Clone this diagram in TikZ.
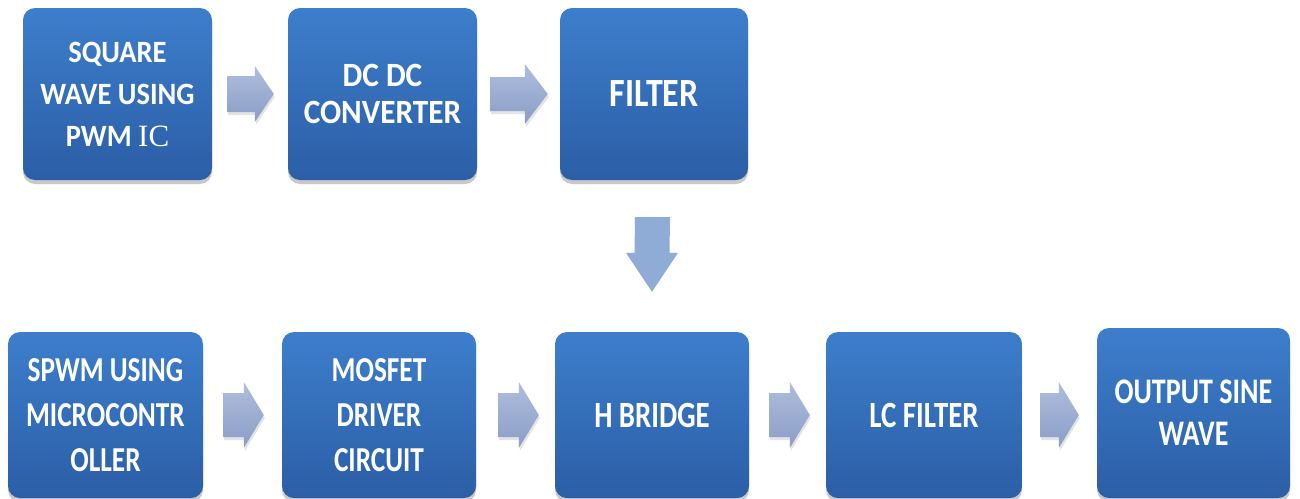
\documentclass[tikz,border=0pt]{standalone}
\usepackage{fontspec}
\newfontfamily\boxfontA{Carlito}[FakeStretch=0.92]
\newfontfamily\boxfontB{Carlito}[FakeStretch=0.85]
\newfontfamily\boxfontC{Carlito}[FakeStretch=0.78]
\newfontfamily\icfont{Liberation Serif}
\usetikzlibrary{shadows,calc}
\definecolor{boxtop}{HTML}{3D7ECC}
\definecolor{boxbot}{HTML}{2B5EA6}
\definecolor{arrtop}{HTML}{AEBEDD}
\definecolor{arrbot}{HTML}{8A9DC6}
\definecolor{downarr}{HTML}{8EACD6}
\tikzset{
  blockbox/.style={rectangle, rounded corners=12pt, top color=boxtop, bottom color=boxbot,
    draw=none, text=white, align=center, inner sep=0pt,
    drop shadow={shadow xshift=0pt, shadow yshift=-4pt, opacity=0.3, fill=black!70}},
  flowarrow/.style={top color=arrtop, bottom color=arrbot, draw=none,
    drop shadow={shadow xshift=1pt, shadow yshift=-3pt, opacity=0.18, fill=black!60}},
  downflow/.style={fill=downarr, draw=none}
}
% horizontal block arrow: #1 start, #2 tip, #3 shaft half, #4 head half, #5 head length
\newcommand\hblockarrow[5]{%
  \path[flowarrow] ($(#1)+(0,-#3)$) -- ($(#2)+(-#5,-#3)$) -- ($(#2)+(-#5,-#4)$) -- (#2)
    -- ($(#2)+(-#5,#4)$) -- ($(#2)+(-#5,#3)$) -- ($(#1)+(0,#3)$) -- cycle;}
\begin{document}
\begin{tikzpicture}[x=1pt,y=-1pt]
\useasboundingbox (0,0) rectangle (1300,498);
\clip (0,0) rectangle (1300,498);
\fill[white] (0,0) rectangle (1300,498);
% top row
\node[blockbox, minimum width=189pt, minimum height=172pt,
  font=\boxfontA\bfseries\fontsize{31}{42}\selectfont] (t1) at (117.5,94)
  {SQUARE\\WAVE USING\\PWM {\icfont\mdseries IC}};
\node[blockbox, minimum width=189pt, minimum height=172pt,
  font=\boxfontA\bfseries\fontsize{34}{37}\selectfont] (t2) at (382.5,94)
  {DC DC\\CONVERTER};
\node[blockbox, minimum width=188pt, minimum height=172pt,
  font=\boxfontB\bfseries\fontsize{40}{44}\selectfont] (t3) at (654,94)
  {FILTER};
% bottom row
\node[blockbox, minimum width=195pt, minimum height=166pt,
  font=\boxfontC\bfseries\fontsize{35}{45}\selectfont] (b1) at (105.5,415)
  {SPWM USING\\MICROCONTR\\OLLER};
\node[blockbox, minimum width=194pt, minimum height=166pt,
  font=\boxfontC\bfseries\fontsize{35}{45}\selectfont] (b2) at (379,415)
  {MOSFET\\DRIVER\\CIRCUIT};
\node[blockbox, minimum width=194pt, minimum height=166pt,
  font=\boxfontC\bfseries\fontsize{37}{42}\selectfont] (b3) at (652,415)
  {H BRIDGE};
\node[blockbox, minimum width=196pt, minimum height=166pt,
  font=\boxfontC\bfseries\fontsize{37}{42}\selectfont] (b4) at (924,415)
  {LC FILTER};
\node[blockbox, minimum width=193pt, minimum height=170pt,
  font=\boxfontC\bfseries\fontsize{36}{42}\selectfont] (b5) at (1193.5,413)
  {OUTPUT SINE\\WAVE};
% arrow end points
\coordinate (a1s) at ($(t1.east)+(15,0)$);  \coordinate (a1e) at ($(t2.west)+(-14,0)$);
\coordinate (a2s) at ($(t2.east)+(13,0)$);  \coordinate (a2e) at ($(t3.west)+(-12,0)$);
\coordinate (a3s) at ($(b1.east)+(20,0)$); \coordinate (a3e) at ($(b2.west)+(-18,0)$);
\coordinate (a4s) at ($(b2.east)+(22,0)$); \coordinate (a4e) at ($(b3.west)+(-16,0)$);
\coordinate (a5s) at ($(b3.east)+(20,0)$); \coordinate (a5e) at ($(b4.west)+(-16,0)$);
\coordinate (a6s) at ($(b4.east)+(18,0)$); \coordinate (a6e) at ($(b5.west)+(-18,2)$);
\hblockarrow{a1s}{a1e}{18}{28}{19}
\hblockarrow{a2s}{a2e}{17}{30}{23}
\hblockarrow{a3s}{a3e}{22}{33}{20}
\hblockarrow{a4s}{a4e}{22}{33}{20}
\hblockarrow{a5s}{a5e}{22}{33}{20}
\hblockarrow{a6s}{a6e}{22}{33}{20}
% down arrow
\coordinate (ds) at ($(t3.south)+(-1.5,37)$);
\coordinate (de) at ($(b3.north)+(0,-40)$);
\path[downflow] ($(ds)+(-17.5,0)$) -- ($(de)+(-17.5,-39)$) -- ($(de)+(-26,-39)$) -- (de)
  -- ($(de)+(26,-39)$) -- ($(de)+(17.5,-39)$) -- ($(ds)+(17.5,0)$) -- cycle;
\end{tikzpicture}
\end{document}
